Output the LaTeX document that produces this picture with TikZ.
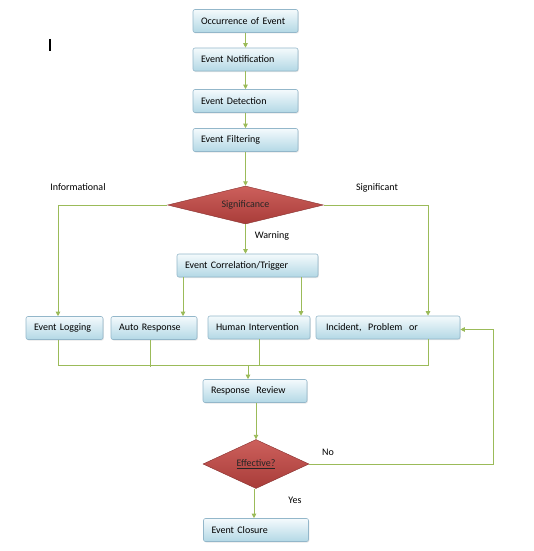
\documentclass[tikz,border=0pt]{standalone}
\usepackage{fontspec}
\setmainfont{Carlito}
\usetikzlibrary{shapes.geometric,arrows.meta,shadows}
\definecolor{lineg}{HTML}{9BBB59}
\definecolor{boxtop}{HTML}{F4FAFC}
\definecolor{boxbot}{HTML}{B3D8E5}
\definecolor{boxdraw}{HTML}{93B7CA}
\definecolor{redtop}{HTML}{CD605C}
\definecolor{redbot}{HTML}{A83C39}
\begin{document}
\begin{tikzpicture}[x=1pt,y=-1pt,
  font=\fontsize{10}{12}\selectfont,
  stepbox/.style={draw=boxdraw, line width=0.6pt, rounded corners=2pt,
    top color=boxtop, bottom color=boxbot, minimum height=23pt,
    inner ysep=0pt, inner xsep=8pt, text width=#1, align=left,
    drop shadow={opacity=0.2, shadow xshift=0.8pt, shadow yshift=-1pt}},
  decision/.style={diamond, draw=redbot!80!black, line width=0.4pt,
    top color=redtop, bottom color=redbot, inner sep=0pt,
    minimum width=#1, text=black!85},
  arr/.style={draw=lineg, line width=0.9pt, -{Triangle[width=4.5pt,length=4.5pt]}},
  ln/.style={draw=lineg, line width=0.9pt},
  lbl/.style={font=\fontsize{10}{12}\selectfont}]
\useasboundingbox (0,0) rectangle (534,551);
\draw[line width=1.5pt] (50,39) -- (50,51);

\node[stepbox=89pt] (occ) at (245.5,21) {Occurrence of Event};
\node[stepbox=89pt] (notif) at (245.5,59.5) {Event Notification};
\node[stepbox=89pt] (det) at (245.5,101) {Event Detection};
\node[stepbox=89pt] (filt) at (245.5,140) {Event Filtering};
\node[decision=156pt, minimum height=38pt, aspect=4.1] (sig) at (245.5,205) {Significance};
\node[stepbox=125pt] (corr) at (247.5,265.5) {Event Correlation/Trigger};
\node[stepbox=61pt] (log) at (64.5,328) {Event Logging};
\node[stepbox=70pt, inner xsep=8pt] (auto) at (154,328) {Auto Response};
\node[stepbox=86pt] (hum) at (259,327.5) {Human Intervention};
\node[stepbox=124pt, inner xsep=10pt] (inc) at (388,327.5) {Incident,\ \ Problem\ \ or};
\node[stepbox=88pt] (rev) at (255,391) {Response\ \ Review};
\node[decision=106pt, minimum height=49pt, aspect=2.16] (eff) at (256,464) {\underline{Effective?}};
\node[stepbox=89pt] (clo) at (256,530) {Event Closure};

\node[lbl] (linf) at (78,187.5) {Informational};
\node[lbl] (lsig) at (377,187.5) {Significant};
\node[lbl] (lwarn) at (272,236) {Warning};
\node[lbl] (lno) at (328,452.5) {No};
\node[lbl] (lyes) at (295,500) {Yes};

\draw[arr] (occ) -- (notif);
\draw[arr] (notif) -- (det);
\draw[arr] (det) -- (filt);
\draw[arr] (filt) -- (sig);
\draw[arr] (sig.west) -| ([xshift=-6.5pt]log.north);
\draw[arr] (sig.east) -| ([xshift=40pt]inc.north);
\draw[arr] (sig.south) -- (sig.south |- corr.north);
\draw[arr] ([xshift=-64.5pt]corr.south) -- ([xshift=-64.5pt]corr.south |- auto.north);
\draw[arr] ([xshift=53.5pt]corr.south) -- ([xshift=53.5pt]corr.south |- hum.north);

\coordinate (jl) at (58,365);
\coordinate (jr) at (428,365);
\coordinate (jm) at (248,365);
\coordinate (ja) at (150,367);
\draw[ln] (log.south -| jl) -- (jl) -- (jr) -- (inc.south -| jr);
\draw[ln] (auto.south -| ja) -- (ja);
\draw[ln] (hum.south) -- (hum.south |- jm);
\draw[arr] (jm) -- (jm |- rev.north);
\draw[arr] ([xshift=1pt]rev.south) -- ([xshift=1pt]rev.south |- eff.north);
\draw[arr] (eff.east) -- ++(184,0) |- ([yshift=-2pt]inc.east);
\draw[arr] ([xshift=-2pt]eff.south) -- ([xshift=-2pt]eff.south |- clo.north);
\end{tikzpicture}
\end{document}
